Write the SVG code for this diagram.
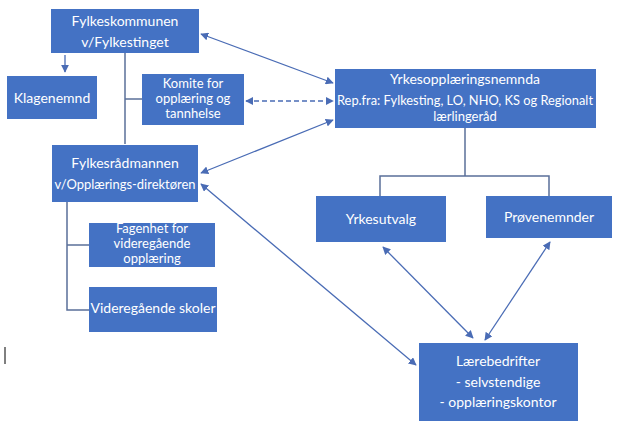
<svg xmlns="http://www.w3.org/2000/svg" width="621" height="430" viewBox="0 0 621 430">
<style>
.box{fill:#4472C4;}
.t{font-family:Lato,"Open Sans","Liberation Sans",sans-serif;font-size:14px;fill:#ffffff;text-anchor:middle;}
.s{font-size:13px;}
.ln{stroke:#4a6cb5;stroke-width:1.3;fill:none;}
.tr{stroke:#5a6f99;stroke-width:1.5;fill:none;}
</style>
<defs>
<marker id="ah" viewBox="0 0 10 10" refX="9" refY="5" markerWidth="8" markerHeight="8" markerUnits="userSpaceOnUse" orient="auto-start-reverse">
<path d="M0,0 L10,5 L0,10 z" fill="#4a6cb5"/>
</marker>
</defs>
<rect width="621" height="430" fill="#ffffff"/>
<g id="connectors">
<line class="ln" x1="65" y1="55" x2="65" y2="72" marker-end="url(#ah)"/>
<polyline class="tr" points="125,53 125,144"/>
<line class="tr" x1="125" y1="99" x2="142" y2="99"/>
<polyline class="tr" points="67,202 67,310 89,310"/>
<line class="tr" x1="67" y1="245" x2="89" y2="245"/>
<line class="tr" x1="465" y1="128" x2="465" y2="176"/>
<polyline class="tr" points="380,196 380,176 549,176 549,196"/>
<line class="ln" x1="201" y1="34" x2="333" y2="83" marker-start="url(#ah)" marker-end="url(#ah)"/>
<line class="ln" x1="246" y1="101" x2="333" y2="101" stroke-dasharray="5,3" marker-start="url(#ah)" marker-end="url(#ah)"/>
<line class="ln" x1="201" y1="173" x2="333" y2="120" marker-start="url(#ah)" marker-end="url(#ah)"/>
<line class="ln" x1="201" y1="184" x2="416" y2="365" marker-start="url(#ah)" marker-end="url(#ah)"/>
<line class="ln" x1="383" y1="247" x2="473" y2="338" marker-start="url(#ah)" marker-end="url(#ah)"/>
<line class="ln" x1="550" y1="242" x2="485" y2="340" marker-start="url(#ah)" marker-end="url(#ah)"/>
</g>
<g id="fylkeskommunen">
<rect class="box" x="51" y="9" width="148" height="44"/>
<text class="t" x="125" y="26">Fylkeskommunen</text>
<text class="t" x="125" y="47">v/Fylkestinget</text>
</g>
<g id="klagenemnd">
<rect class="box" x="7" y="76" width="90" height="43"/>
<text class="t" x="52" y="103">Klagenemnd</text>
</g>
<g id="komite">
<rect class="box" x="142" y="74" width="102" height="51"/>
<text class="t s" x="193" y="88">Komite for</text>
<text class="t s" x="193" y="103">opplæring og</text>
<text class="t s" x="193" y="118">tannhelse</text>
</g>
<g id="fylkesradmannen">
<rect class="box" x="52" y="145" width="146" height="57"/>
<text class="t" x="125" y="168">Fylkesrådmannen</text>
<text class="t" x="125" y="189" textLength="141" lengthAdjust="spacingAndGlyphs">v/Opplærings-direktøren</text>
</g>
<g id="fagenhet">
<rect class="box" x="89" y="223" width="126" height="44"/>
<text class="t s" x="152" y="233">Fagenhet for</text>
<text class="t s" x="152" y="248">videregående</text>
<text class="t s" x="152" y="263">opplæring</text>
</g>
<g id="vgs">
<rect class="box" x="89" y="287" width="128" height="45"/>
<text class="t" x="153" y="313">Videregående skoler</text>
</g>
<g id="yrkesopplaeringsnemnda">
<rect class="box" x="335" y="69" width="261" height="59"/>
<text class="t" x="465" y="84">Yrkesopplæringsnemnda</text>
<text class="t s" x="465" y="105" textLength="256" lengthAdjust="spacingAndGlyphs">Rep.fra: Fylkesting, LO, NHO, KS og Regionalt</text>
<text class="t s" x="465" y="121">lærlingeråd</text>
</g>
<g id="yrkesutvalg">
<rect class="box" x="316" y="196" width="130" height="46"/>
<text class="t" x="381" y="224">Yrkesutvalg</text>
</g>
<g id="provenemnder">
<rect class="box" x="486" y="196" width="126" height="42"/>
<text class="t" x="549" y="222">Prøvenemnder</text>
</g>
<g id="laerebedrifter">
<rect class="box" x="419" y="343" width="159" height="78"/>
<text class="t" x="498" y="366">Lærebedrifter</text>
<text class="t" x="498" y="387">- selvstendige</text>
<text class="t" x="498" y="407">- opplæringskontor</text>
</g>
<line x1="5" y1="347" x2="5" y2="364" stroke="#000000" stroke-width="1"/>
</svg>
